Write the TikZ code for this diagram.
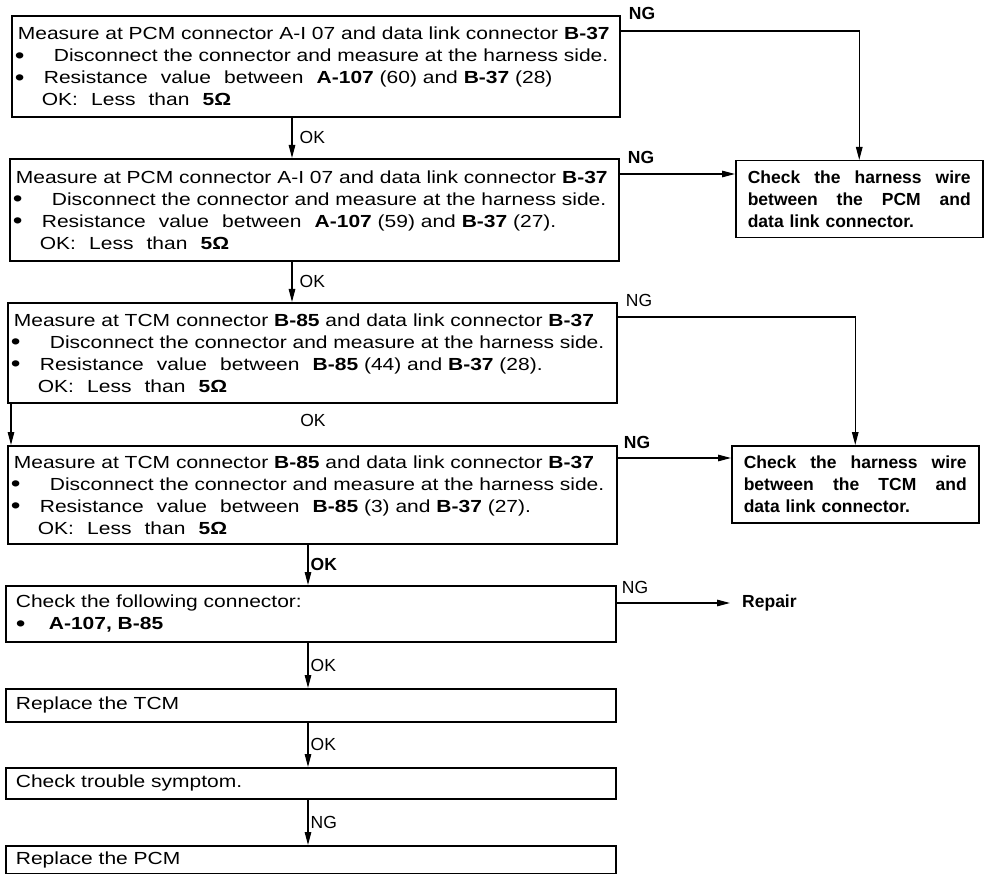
\documentclass[tikz,border=0pt]{standalone}
\usepackage{fontspec}
\setmainfont{Liberation Sans}[FakeStretch=1.2]
\newfontfamily\plainsf{Liberation Sans}
\usepackage{tikz}
\usetikzlibrary{arrows.meta,positioning}

\newcommand{\bul}[1][29pt]{\makebox[#1][l]{\raisebox{-1.5pt}{\fontsize{23}{22}\selectfont•}}}
\newcommand{\wsp}{\hspace{0.75em}}

\begin{document}
\begin{tikzpicture}[x=1pt,y=-1pt,
  box/.style={draw, line width=1.7pt, anchor=north west, inner xsep=6pt,
    inner ysep=0pt, align=left, font=\fontsize{17.5}{22}\selectfont},
  lbox/.style={box, inner xsep=10pt, text width=590pt},
  rbox/.style={draw, line width=1.5pt, anchor=north west, inner xsep=12pt,
    inner ysep=0pt, text width=223pt, minimum height=77pt, align=left,
    font=\fontsize{17.5}{22}\selectfont\plainsf\bfseries},
  conn/.style={line width=1.3pt, -{Triangle[length=13pt,width=6.5pt]}},
  lab/.style={font=\fontsize{17.5}{22}\selectfont\plainsf, inner sep=1pt},
  labb/.style={lab, font=\fontsize{17.5}{22}\selectfont\plainsf\bfseries}]

\useasboundingbox (0,0) rectangle (985,874);

% -------- measuring steps --------

\node[box, text width=596pt, minimum height=101pt] (b1) at (11,15)
  {Measure at PCM connector A-I 07 and data link connector \textbf{B-37}\\
   \hspace*{-3pt}\bul[39pt]Disconnect the connector and measure at the harness side.\\
   \hspace*{-3pt}\bul Resistance\wsp value\wsp between\wsp \textbf{A-107} (60) and \textbf{B-37} (28)\\
   \hspace*{24pt}OK:\wsp Less\wsp than\wsp \textbf{5Ω}};

\node[box, text width=597pt, minimum height=102pt] (b2) at (9,158)
  {Measure at PCM connector A-I 07 and data link connector \textbf{B-37}\\
   \hspace*{-3pt}\bul[39pt]Disconnect the connector and measure at the harness side.\\
   \hspace*{-3pt}\bul Resistance\wsp value\wsp between\wsp \textbf{A-107} (59) and \textbf{B-37} (27).\\
   \hspace*{24pt}OK:\wsp Less\wsp than\wsp \textbf{5Ω}};

\node[box, text width=597pt, minimum height=100pt] (b3) at (7,302)
  {\makebox[\linewidth][s]{Measure at TCM connector \textbf{B-85} and data link connector \textbf{B-37}}\\
   \hspace*{-3pt}\bul[39pt]Disconnect the connector and measure at the harness side.\\
   \hspace*{-3pt}\bul Resistance\wsp value\wsp between\wsp \textbf{B-85} (44) and \textbf{B-37} (28).\\
   \hspace*{24pt}OK:\wsp Less\wsp than\wsp \textbf{5Ω}};

\node[box, text width=597pt, minimum height=98pt] (b4) at (7,445)
  {\makebox[\linewidth][s]{Measure at TCM connector \textbf{B-85} and data link connector \textbf{B-37}}\\
   \hspace*{-3pt}\bul[39pt]Disconnect the connector and measure at the harness side.\\
   \hspace*{-3pt}\bul Resistance\wsp value\wsp between\wsp \textbf{B-85} (3) and \textbf{B-37} (27).\\
   \hspace*{24pt}OK:\wsp Less\wsp than\wsp \textbf{5Ω}};

% -------- lower steps --------

\node[lbox, minimum height=56pt] (b5) at (5,585)
  {Check the following connector:\\
   \bul[33pt]\textbf{A-107, B-85}};
\node[lbox, minimum height=33pt] (b6) at (5,688) {Replace the TCM};
\node[lbox, minimum height=31pt] (b7) at (5,767) {Check trouble symptom.};
\node[lbox, minimum height=28pt] (b8) at (5,845) {Replace the PCM};

% -------- right side --------

\node[rbox] (pcm) at (735,160)
  {Check\hfill the\hfill harness\hfill wire\\
   between\hfill the\hfill PCM\hfill and\\
   data link connector.};
\node[rbox] (tcm) at (731,445)
  {Check\hfill the\hfill harness\hfill wire\\
   between\hfill the\hfill TCM\hfill and\\
   data link connector.};
\node[labb, anchor=west, inner xsep=12pt] (rep) at (730,603) {Repair};

% NG labels
\node[labb] (ng1) at (642,13) {NG};
\node[labb] (ng2) at (641,157) {NG};
\node[lab] (ng3) at (639,300) {NG};
\node[labb] (ng4) at (637,442) {NG};
\node[lab] (ng5) at (635,587) {NG};
\node[lab] (ok3) at (313,420) {OK};

% -------- connectors --------

\coordinate (ax1) at (292,0);
\coordinate (ax2) at (308,0);

\draw[conn] (b1.south -| ax1) -- node[lab, right=6pt] (ok1) {OK} (b2.north -| ax1);
\draw[conn] (b2.south -| ax1) -- node[lab, right=6pt] (ok2) {OK} (b3.north -| ax1);
\draw[conn] ([xshift=4pt]b3.south west) -- ([xshift=4pt]b4.north west);
\draw[conn] (b4.south -| ax2) -- node[labb, right=1pt] (ok4) {OK} (b5.north -| ax2);
\draw[conn] (b5.south -| ax2) -- node[lab, right=1pt] (ok5) {OK} (b6.north -| ax2);
\draw[conn] (b6.south -| ax2) -- node[lab, right=1pt] (ok6) {OK} (b7.north -| ax2);
\draw[conn] (b7.south -| ax2) -- node[lab, right=1pt] (ng6) {NG} (b8.north -| ax2);

\draw[conn] ([yshift=-16pt]b1.north east) -| (pcm.north);
\draw[conn] ([yshift=-16pt]b2.north east) coordinate (n2) -- (n2 -| pcm.west);
\draw[conn] ([yshift=-15pt]b3.north east) -| (tcm.north);
\draw[conn] ([yshift=-13pt]b4.north east) coordinate (n4) -- (n4 -| tcm.west);
\draw[conn] ([yshift=-18pt]b5.north east) coordinate (n5) -- (n5 -| rep.west);

\end{tikzpicture}
\end{document}
